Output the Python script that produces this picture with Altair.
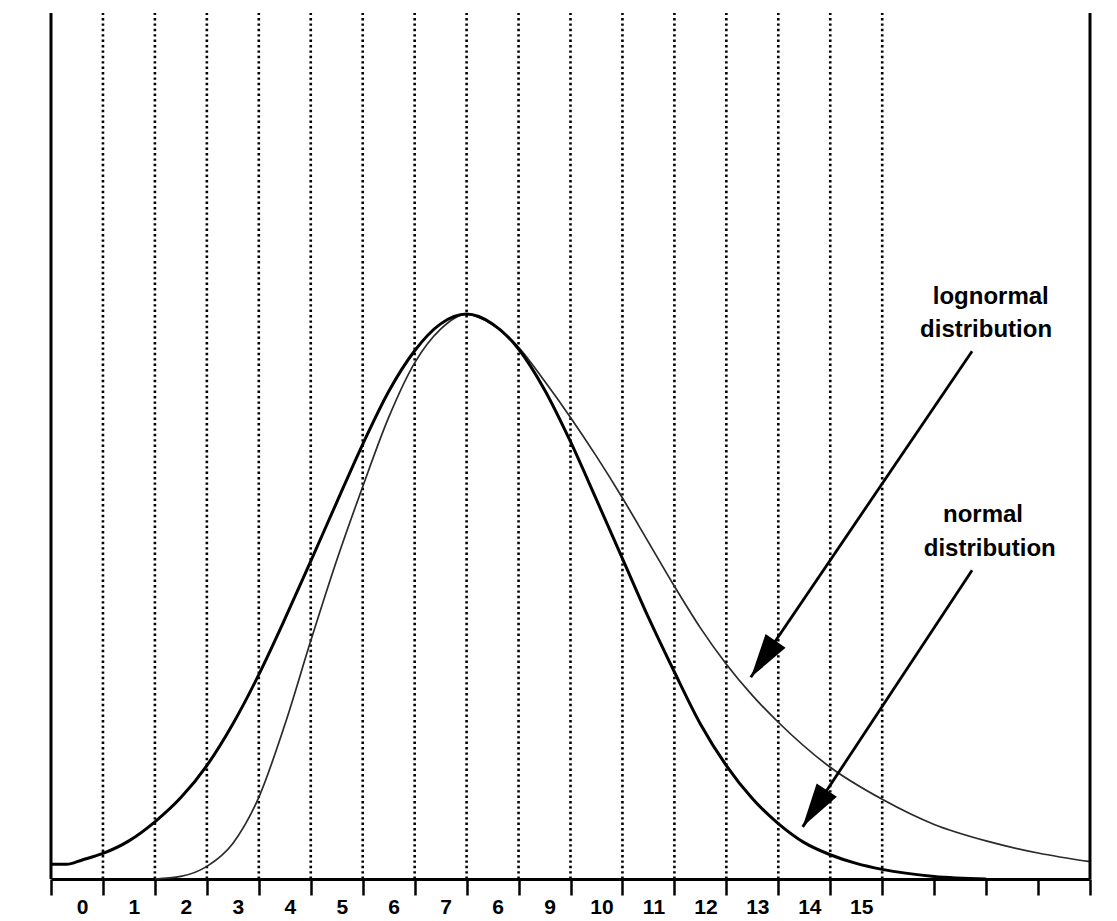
import json
import altair as alt
import pandas as pd

# ---- data ----
bin_labels = ["0", "1", "2", "3", "4", "5", "6", "7", "6", "9",
              "10", "11", "12", "13", "14", "15"]
bin_edges = [1, 2, 3, 4, 5, 6, 7, 8, 9, 10, 11, 12, 13, 14, 15, 16]
axis_ticks = list(range(0, 21))
frame_x = [0, 20]

normal_x = [0, 0.3, 0.6, 1, 1.5, 2, 2.5, 3, 3.5, 4, 4.5, 5, 5.5, 6, 6.5, 7, 7.5, 8,
            8.5, 9, 9.5, 10, 10.5, 11, 11.5, 12, 12.5, 13, 13.5, 14, 14.5, 15,
            15.5, 16, 17, 18]
normal_y = [1.69, 1.69, 2.2, 2.95, 4.4, 6.6, 9.4, 13.1, 17.9, 23.6, 30.0,
            36.7, 43.5, 50.2, 56.3, 61.0, 64.1, 65.23, 64.1, 61.2, 56.5,
            50.5, 43.8, 37.0, 30.2, 23.9, 17.9, 13.1, 9.3, 6.4, 4.2,
            2.8, 1.8, 1.11, 0.3, 0.0]

lognormal_x = [2, 2.5, 3, 3.5, 4, 4.5, 5, 5.5, 6, 6.5, 7, 7.5, 8, 8.5, 9, 9.5, 10,
               10.5, 11, 11.5, 12, 12.5, 13, 13.5, 14, 15, 16, 17, 18, 19, 20]
lognormal_y = [0.0, 0.3, 1.46, 4.11, 9.43, 17.8, 27.5, 36.8, 45.3, 53.3, 59.6,
               63.5, 65.23, 64.0, 61.4, 57.5, 53.3, 48.8, 44.0, 38.9, 33.8,
               29.0, 24.8, 21.2, 18.1, 12.9, 9.2, 6.3, 4.4, 3.0, 2.0]

annot_text = ["lognormal", "distribution", "normal", "distribution"]
annot_x = [18.09, 18.0, 17.94, 18.07]
annot_y = [66.38, 62.57, 41.2, 37.27]

arrow_x1 = [17.73, 17.73]
arrow_y1 = [60.95, 35.66]
arrow_x2 = [13.47, 14.47]
arrow_y2 = [23.29, 6.02]
head_x = [13.71, 14.70]
head_y = [25.39, 8.14]
head_angle = [214.1, 213.4]

# ---- tables ----
edges_df = pd.DataFrame({"x": bin_edges})
frame_df = pd.DataFrame({"x": frame_x})
normal_df = pd.DataFrame({"x": normal_x, "y": normal_y})
logn_df = pd.DataFrame({"x": lognormal_x, "y": lognormal_y})
annot_df = pd.DataFrame({"x": annot_x, "y": annot_y, "t": annot_text})
arrow_df = pd.DataFrame({"x": arrow_x1, "y": arrow_y1, "x2": arrow_x2, "y2": arrow_y2})
head_df = pd.DataFrame({"x": head_x, "y": head_y, "a": head_angle})

FONT = "Liberation Sans"
xscale = alt.Scale(domain=[0, 20], nice=False, zero=False)
yscale = alt.Scale(domain=[0, 100], nice=False, zero=False)

label_expr = "datum.value <= 15 ? " + json.dumps(bin_labels) + "[datum.value] : ''"

x_axis = alt.Axis(
    values=axis_ticks, title=None, grid=False,
    tickSize=16, tickWidth=2.5, tickColor="black",
    domainWidth=3, domainColor="black",
    labelExpr=label_expr, labelOffset=31, labelPadding=1,
    labelFont=FONT, labelFontSize=21, labelFontWeight="bold", labelColor="black",
    labelOverlap=False, labelFlush=False, labelBound=False,
)

base_x = alt.X("x:Q", scale=xscale, axis=x_axis)

dotted = alt.Chart(edges_df).mark_rule(
    color="black", strokeWidth=2.6, strokeDash=[2.4, 3]
).encode(
    x=base_x,
    y=alt.datum(0, scale=yscale, axis=None),
    y2=alt.datum(100),
)

frame = alt.Chart(frame_df).mark_rule(color="black", strokeWidth=3).encode(
    x=alt.X("x:Q", scale=xscale),
    y=alt.datum(0, scale=yscale, axis=None),
    y2=alt.datum(100),
)

normal = alt.Chart(normal_df).mark_line(
    color="black", strokeWidth=3, interpolate="monotone"
).encode(
    x=alt.X("x:Q", scale=xscale),
    y=alt.Y("y:Q", scale=yscale, axis=None),
)

logn = alt.Chart(logn_df).mark_line(
    color="#2a2a2a", strokeWidth=1.7, interpolate="monotone"
).encode(
    x=alt.X("x:Q", scale=xscale),
    y=alt.Y("y:Q", scale=yscale, axis=None),
)

texts = alt.Chart(annot_df).mark_text(
    font=FONT, fontSize=24, fontWeight="bold", align="center",
    baseline="alphabetic", color="black"
).encode(
    x=alt.X("x:Q", scale=xscale),
    y=alt.Y("y:Q", scale=yscale, axis=None),
    text="t:N",
)

arrows = alt.Chart(arrow_df).mark_rule(color="black", strokeWidth=2.8).encode(
    x=alt.X("x:Q", scale=xscale),
    y=alt.Y("y:Q", scale=yscale, axis=None),
    x2="x2:Q",
    y2="y2:Q",
)

heads = alt.Chart(head_df).mark_point(
    shape="M0,-1L0.55,1L-0.55,1Z", filled=True, size=1936, color="black",
    opacity=1, strokeWidth=0
).encode(
    x=alt.X("x:Q", scale=xscale),
    y=alt.Y("y:Q", scale=yscale, axis=None),
    angle=alt.Angle("a:Q", scale=None),
)

chart = alt.layer(dotted, logn, normal, frame, arrows, heads, texts).properties(
    width=1039, height=866,
    autosize=alt.AutoSizeParams(type="none"),
    padding={"left": 43, "top": 5, "right": 19, "bottom": 40},
    background="white",
).configure_view(stroke=None)

chart.save("out.html", embed_options={"renderer": "svg", "actions": False})
